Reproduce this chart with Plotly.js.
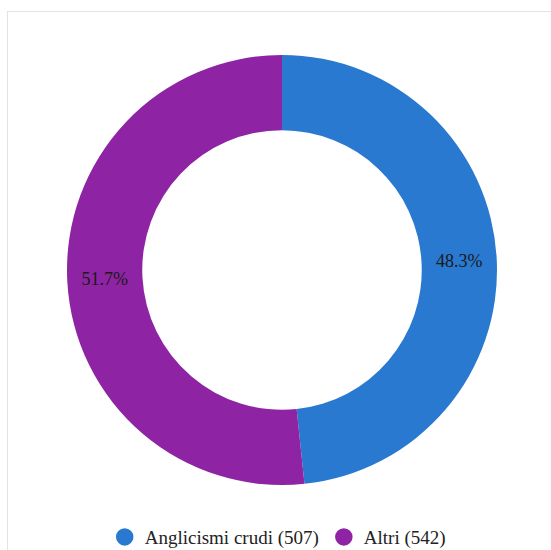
<!DOCTYPE html>
<html>
<head>
<meta charset="utf-8">
<script src="https://cdn.plot.ly/plotly-3.0.1.min.js"></script>
<style>
  html, body { margin: 0; padding: 0; background: #fff; }
  #wrap { position: relative; width: 551px; height: 550px; overflow: hidden; }
  #frame { position: absolute; left: 7px; top: 11px; width: 600px; height: 600px; border: 1px solid #e3e3e3; box-sizing: border-box; pointer-events: none; }
  #chart { position: absolute; left: 0; top: 0; width: 551px; height: 550px; }
</style>
</head>
<body>
<div id="wrap">
  <div id="frame"></div>
  <div id="chart"></div>
</div>
<script>
const categories = ["Anglicismi crudi", "Altri"];
const counts = [507, 542];
const colors = ["#2979d0", "#8e24a4"];

const pieTrace = {
  type: "pie",
  labels: categories,
  values: counts,
  hole: 0.65,
  sort: false,
  direction: "clockwise",
  rotation: 0,
  marker: { colors: colors, line: { width: 0 } },
  textinfo: "percent",
  texttemplate: "%{percent:.1%}",
  textposition: "inside",
  insidetextorientation: "horizontal",
  textfont: { family: "Liberation Serif", size: 18, color: "#1a1a1a" },
  showlegend: false,
  hoverinfo: "label+value+percent"
};

const legendTraces = categories.map((c, i) => ({
  type: "scatter",
  mode: "markers",
  x: [null],
  y: [null],
  name: c + " (" + counts[i] + ")",
  marker: { color: colors[i], size: 16, symbol: "circle", line: { color: colors[i], width: 1.5 } },
  hoverinfo: "skip",
  showlegend: true
}));

const layout = {
  width: 551,
  height: 550,
  margin: { l: 67, r: 54, t: 55, b: 65, autoexpand: false },
  paper_bgcolor: "rgba(0,0,0,0)",
  plot_bgcolor: "rgba(0,0,0,0)",
  xaxis: { visible: false },
  yaxis: { visible: false },
  showlegend: true,
  legend: {
    orientation: "h",
    x: 0.49,
    xanchor: "center",
    y: -0.121,
    yanchor: "middle",
    itemwidth: 30,
    font: { family: "Liberation Serif", size: 19, color: "#222" }
  },
  font: { family: "Liberation Serif" }
};

Plotly.newPlot("chart", [pieTrace, ...legendTraces], layout, { displayModeBar: false, staticPlot: true });
</script>
</body>
</html>
